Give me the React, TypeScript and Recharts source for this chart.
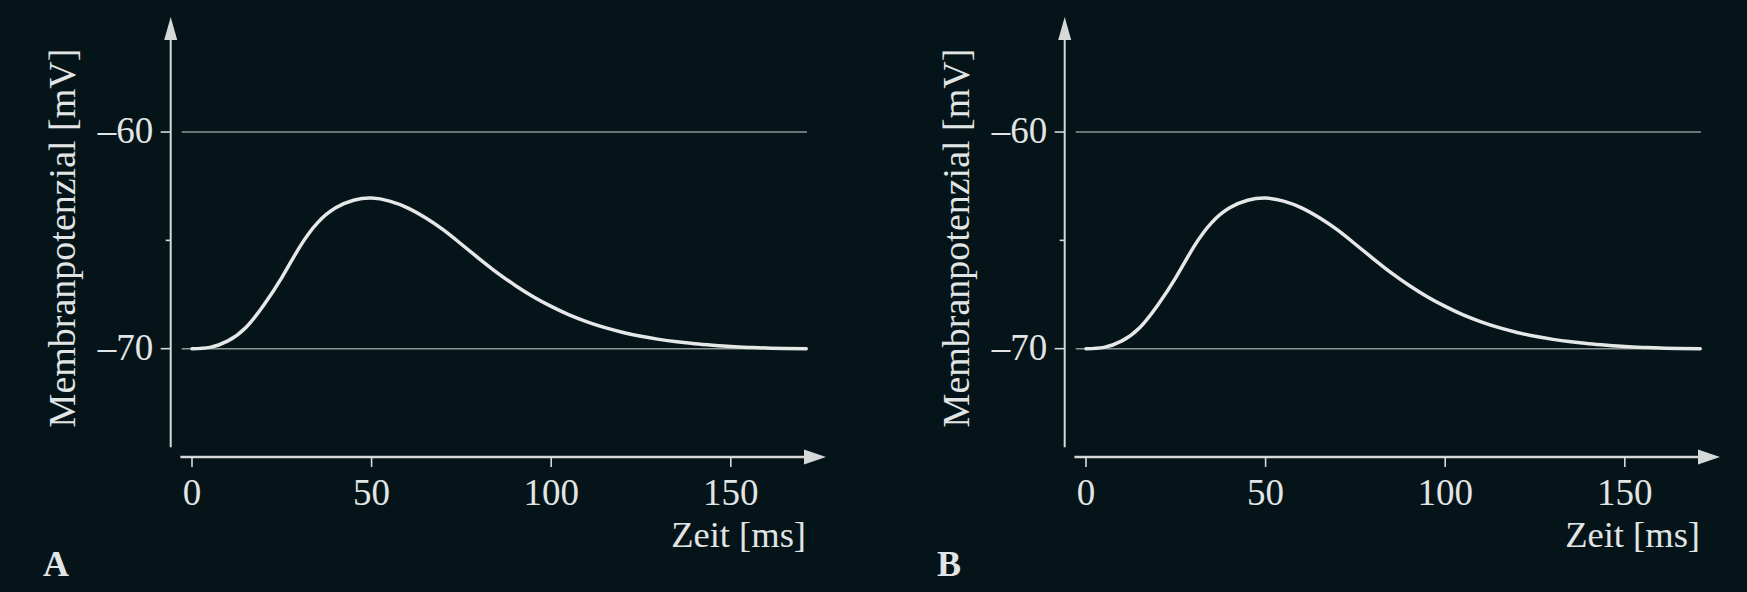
import React from 'react';
import { LineChart, Line, XAxis, YAxis, ReferenceLine, ReferenceDot } from 'recharts';

// membrane potential trace, same in both panels
const timeMs = [0, 5, 10, 15, 20, 25, 30, 35, 40, 45, 50, 55, 60, 65, 70, 75, 80, 85, 90, 95, 100, 105, 110, 115, 120, 125, 130, 135, 140, 145, 150, 155, 160, 165, 171];
const potentialMv = [-70.0, -69.94, -69.64, -69.02, -67.98, -66.72, -65.3, -64.18, -63.5, -63.15, -63.05, -63.19, -63.5, -63.96, -64.52, -65.18, -65.85, -66.5, -67.08, -67.6, -68.05, -68.44, -68.76, -69.03, -69.25, -69.43, -69.57, -69.68, -69.77, -69.84, -69.9, -69.94, -69.97, -69.99, -70.0];

const xTicks = [0, 50, 100, 150];
const yTicks = [-70, -65, -60];
const yTickLabels: Record<string, string> = { '-60': '–60', '-70': '–70' };
const gridLevels = [-60, -70];
const panels = ['A', 'B'];

const data = timeMs.map((t, i) => ({ t, v: potentialMv[i] }));

const X_DOMAIN: [number, number] = [-5.93, 176.5];
const Y_DOMAIN: [number, number] = [-75, -54.69];

const BG = '#051419';
const TEXT = '#e2e5e5';
const AXIS = '#d6d9d9';
const GRID = '#8c9696';
const FONT = '"Liberation Serif", "Times New Roman", serif';

function YTick(props: any) {
    const { x, y, payload } = props;
    const label = yTickLabels[String(payload.value)];
    return (
        <g>
            <line x1={x - (label ? 10 : 5)} x2={x} y1={y} y2={y} stroke={AXIS} strokeWidth={1.6} />
            {label && (
                <text x={x - 17.5} y={y + 11} textAnchor="end" fill={TEXT} fontSize={37} fontFamily={FONT}>
                    {label}
                </text>
            )}
        </g>
    );
}

function XTick(props: any) {
    const { x, y, payload } = props;
    return (
        <g>
            <line x1={x} x2={x} y1={y} y2={y + 10} stroke={AXIS} strokeWidth={1.6} />
            <text x={x} y={y + 48} textAnchor="middle" fill={TEXT} fontSize={37} fontFamily={FONT}>
                {payload.value}
            </text>
        </g>
    );
}

function Panel({ letter }: { letter: string }) {
    return (
        <LineChart width={853} height={592} data={data} margin={{ top: 17, right: 27, bottom: 0, left: 0.7 }}>
            <XAxis
                dataKey="t"
                type="number"
                domain={X_DOMAIN}
                allowDataOverflow
                ticks={xTicks}
                axisLine={false}
                tickLine={false}
                tickSize={0}
                tickMargin={0}
                height={135}
                tick={<XTick />}
                label={{
                    content: (p: any) => {
                        const vb = p.viewBox;
                        return (
                            <g>
                                <text x={vb.x + vb.width - 20} y={vb.y + 90} textAnchor="end" fill={TEXT} fontSize={36.5} fontFamily={FONT}>
                                    Zeit [ms]
                                </text>
                                <text x={vb.x - 127.7} y={vb.y + 119} fill={TEXT} fontSize={36} fontWeight="bold" fontFamily={FONT}>
                                    {letter}
                                </text>
                            </g>
                        );
                    },
                }}
            />
            <YAxis
                type="number"
                domain={Y_DOMAIN}
                allowDataOverflow
                ticks={yTicks}
                axisLine={false}
                tickLine={false}
                tickSize={0}
                tickMargin={0}
                width={170}
                tick={<YTick />}
                label={{
                    content: (p: any) => {
                        const vb = p.viewBox;
                        const cx = vb.x + vb.width - 96;
                        const cy = vb.y + 221;
                        return (
                            <text x={cx} y={cy} textAnchor="middle" fill={TEXT} fontSize={38} fontFamily={FONT} transform={`rotate(-90, ${cx}, ${cy})`}>
                                Membranpotenzial [mV]
                            </text>
                        );
                    },
                }}
            />
            {gridLevels.map((lv) => (
                <ReferenceLine
                    key={lv}
                    segment={[{ x: -2.87, y: lv }, { x: 171.2, y: lv }]}
                    stroke={GRID}
                    strokeWidth={1.5}
                    ifOverflow="visible"
                />
            ))}
            {/* axis lines, drawn apart like in the figure */}
            <ReferenceLine
                segment={[{ x: X_DOMAIN[0], y: -74.55 }, { x: X_DOMAIN[0], y: -55.72 }]}
                stroke={AXIS}
                strokeWidth={2}
                ifOverflow="visible"
            />
            <ReferenceLine
                segment={[{ x: -3.23, y: Y_DOMAIN[0] }, { x: 170.7, y: Y_DOMAIN[0] }]}
                stroke={AXIS}
                strokeWidth={2.5}
                ifOverflow="visible"
            />
            <ReferenceDot
                x={X_DOMAIN[0]}
                y={Y_DOMAIN[1]}
                r={0}
                ifOverflow="visible"
                shape={(p: any) => (
                    <polygon points={`${p.cx},${p.cy} ${p.cx - 6.5},${p.cy + 23} ${p.cx + 6.5},${p.cy + 23}`} fill={AXIS} />
                )}
            />
            <ReferenceDot
                x={X_DOMAIN[1]}
                y={Y_DOMAIN[0]}
                r={0}
                ifOverflow="visible"
                shape={(p: any) => (
                    <polygon points={`${p.cx},${p.cy} ${p.cx - 22},${p.cy - 7.5} ${p.cx - 22},${p.cy + 7.5}`} fill={AXIS} />
                )}
            />
            <Line
                type="natural"
                dataKey="v"
                stroke="#e6e8e8"
                strokeWidth={3.5}
                strokeLinecap="round"
                dot={false}
                activeDot={false}
                isAnimationActive={false}
            />
        </LineChart>
    );
}

export default function App() {
    return (
        <div style={{ position: 'absolute', left: 0, top: 0, width: 1747, height: 592, background: BG, overflow: 'hidden' }}>
            {panels.map((letter, i) => (
                <div key={letter} style={{ position: 'absolute', top: 0, left: i * 893.6 }}>
                    <Panel letter={letter} />
                </div>
            ))}
        </div>
    );
}
